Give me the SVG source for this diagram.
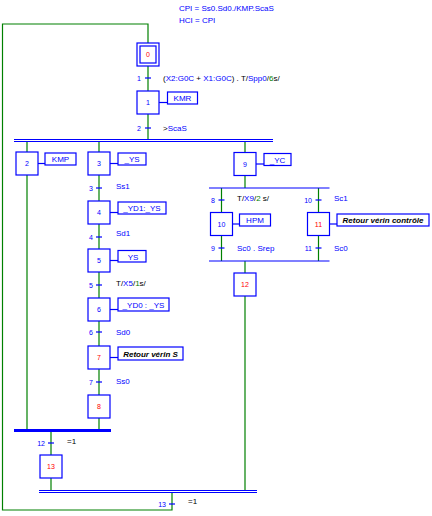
<svg xmlns="http://www.w3.org/2000/svg" width="432" height="516" viewBox="0 0 432 516">
<style>
text{font-family:"Liberation Sans",Arial,sans-serif;font-size:8px}
.b{fill:#0000ff}.k{fill:#000}.g{fill:#008000}.r{fill:#ff0000}
.step rect{fill:#fff;stroke:#0000ff;stroke-width:1.2}
.sl{font-size:7px;text-anchor:middle}
.act rect{fill:#fff;stroke:#0000ff;stroke-width:1.2}
.act line{stroke:#0000ff;stroke-width:1.2}
.act text{fill:#0000ff;text-anchor:middle}
.act text.it{fill:#000;font-style:italic;font-weight:bold}
.lnk{stroke:#008000;stroke-width:1.2;fill:none}
.bar{stroke:#0000ff;stroke-width:1.2}
.tk{stroke:#0000ff;stroke-width:1.2}
.tl{fill:#0000ff;text-anchor:end;font-size:7px}
</style>

<g id="header">
<text x="179" y="11" class="b">CPI = Ss0.Sd0./KMP.ScaS</text>
<text x="179" y="23" class="b">HCI = CPI</text>
</g>

<g id="connectors">
<path class="lnk" d="M148,43 V24 H2.5 V510 H172 V492.5"/>
<path class="lnk" d="M148,66 V91 M148,114 V139.5"/>
<path class="lnk" d="M27,141.5 V152 M27,175 V430"/>
<path class="lnk" d="M99,141.5 V152 M99,175 V201 M99,224 V249 M99,272 V298 M99,321 V346 M99,369 V395 M99,418 V430"/>
<path class="lnk" d="M245,141.5 V152.5 M245,175.5 V188"/>
<path class="lnk" d="M221.5,188 V212.5 M221.5,235.5 V261 M318.5,188 V212.5 M318.5,235.5 V261"/>
<path class="lnk" d="M245,261 V273 M245,296 V490.5"/>
<path class="lnk" d="M51,431 V455 M51,478 V490.5"/>
<line class="bar" x1="14" y1="139.5" x2="273" y2="139.5"/>
<line class="bar" x1="14" y1="141.5" x2="273" y2="141.5"/>
<line class="bar" x1="209" y1="188" x2="329.5" y2="188"/>
<line class="bar" x1="209" y1="261" x2="329.5" y2="261"/>
<line x1="14" y1="430.5" x2="111" y2="430.5" stroke="#0000ff" stroke-width="3"/>
<line class="bar" x1="39" y1="490.5" x2="257" y2="490.5"/>
<line class="bar" x1="39" y1="492.5" x2="257" y2="492.5"/>
</g>

<g id="transitions">
<line class="tk" x1="145" y1="78" x2="151" y2="78"/><text class="tl" x="141" y="81">1</text>
<text x="163" y="81"><tspan class="k">(</tspan><tspan class="b">X2:G0C</tspan><tspan class="k"> + </tspan><tspan class="b">X1:G0C</tspan><tspan class="k">) . T/</tspan><tspan class="b">Spp0</tspan><tspan class="k">/</tspan><tspan class="g">6</tspan><tspan class="k">s/</tspan></text>
<line class="tk" x1="145" y1="128" x2="151" y2="128"/><text class="tl" x="141" y="131">2</text>
<text x="163" y="131"><tspan class="k">&gt;</tspan><tspan class="b">ScaS</tspan></text>
<line class="tk" x1="96" y1="188" x2="102" y2="188"/><text class="tl" x="93" y="191">3</text>
<text x="116" y="189" class="b">Ss1</text>
<line class="tk" x1="96" y1="237" x2="102" y2="237"/><text class="tl" x="93" y="240">4</text>
<text x="116" y="236" class="b">Sd1</text>
<line class="tk" x1="96" y1="285" x2="102" y2="285"/><text class="tl" x="93" y="288">5</text>
<text x="116" y="286"><tspan class="k">T/</tspan><tspan class="b">X5</tspan><tspan class="k">/</tspan><tspan class="g">1</tspan><tspan class="k">s/</tspan></text>
<line class="tk" x1="96" y1="332" x2="102" y2="332"/><text class="tl" x="93" y="335">6</text>
<text x="116" y="335" class="b">Sd0</text>
<line class="tk" x1="96" y1="382" x2="102" y2="382"/><text class="tl" x="93" y="385">7</text>
<text x="116" y="384" class="b">Ss0</text>
<line class="tk" x1="218.5" y1="200" x2="224.5" y2="200"/><text class="tl" x="215" y="203">8</text>
<text x="237" y="201"><tspan class="k">T/</tspan><tspan class="b">X9</tspan><tspan class="k">/</tspan><tspan class="g">2</tspan><tspan class="k"> s/</tspan></text>
<line class="tk" x1="315.5" y1="200" x2="321.5" y2="200"/><text class="tl" x="312" y="203">10</text>
<text x="334" y="201" class="b">Sc1</text>
<line class="tk" x1="218.5" y1="248" x2="224.5" y2="248"/><text class="tl" x="215" y="251">9</text>
<text x="237" y="251" class="b">Sc0 . Srep</text>
<line class="tk" x1="315.5" y1="248" x2="321.5" y2="248"/><text class="tl" x="312" y="251">11</text>
<text x="334" y="251" class="b">Sc0</text>
<line class="tk" x1="48" y1="443" x2="54" y2="443"/><text class="tl" x="45" y="446">12</text>
<text x="67" y="444" class="k">=1</text>
<line class="tk" x1="169" y1="504" x2="175" y2="504"/><text class="tl" x="166" y="507">13</text>
<text x="188" y="504" class="k">=1</text>
</g>

<g id="step0" class="step"><rect x="137" y="43" width="22" height="23"/><rect x="140" y="46" width="16" height="17"/><text class="sl r" x="148" y="57">0</text></g>
<g id="step1" class="step"><rect x="137" y="91" width="22" height="23"/><text class="sl b" x="148" y="105">1</text></g>
<g id="step2" class="step"><rect x="16" y="152" width="22" height="23"/><text class="sl b" x="27" y="166">2</text></g>
<g id="step3" class="step"><rect x="88" y="152" width="22" height="23"/><text class="sl b" x="99" y="166">3</text></g>
<g id="step4" class="step"><rect x="88" y="201" width="22" height="23"/><text class="sl b" x="99" y="215">4</text></g>
<g id="step5" class="step"><rect x="88" y="249" width="22" height="23"/><text class="sl b" x="99" y="263">5</text></g>
<g id="step6" class="step"><rect x="88" y="298" width="22" height="23"/><text class="sl b" x="99" y="312">6</text></g>
<g id="step7" class="step"><rect x="88" y="346" width="22" height="23"/><text class="sl r" x="99" y="360">7</text></g>
<g id="step8" class="step"><rect x="88" y="395" width="22" height="23"/><text class="sl r" x="99" y="409">8</text></g>
<g id="step9" class="step"><rect x="234" y="152.5" width="22" height="23"/><text class="sl b" x="245" y="166.5">9</text></g>
<g id="step10" class="step"><rect x="210.5" y="212.5" width="22" height="23"/><text class="sl b" x="221.5" y="226.5">10</text></g>
<g id="step11" class="step"><rect x="307.5" y="212.5" width="22" height="23"/><text class="sl r" x="318.5" y="226.5">11</text></g>
<g id="step12" class="step"><rect x="234" y="273" width="22" height="23"/><text class="sl r" x="245" y="287">12</text></g>
<g id="step13" class="step"><rect x="40" y="455" width="22" height="23"/><text class="sl r" x="51" y="469">13</text></g>

<g id="action1" class="act"><line x1="159" y1="102.5" x2="167.5" y2="102.5"/><rect x="167.5" y="92" width="30" height="12"/><text x="182.5" y="101">KMR</text></g>
<g id="action2" class="act"><line x1="38" y1="163.5" x2="45" y2="163.5"/><rect x="45" y="153" width="31" height="12"/><text x="60.5" y="162">KMP</text></g>
<g id="action3" class="act"><line x1="110" y1="163.5" x2="118" y2="163.5"/><rect x="118" y="153" width="28" height="12"/><text x="132" y="162">_YS</text></g>
<g id="action4" class="act"><line x1="110" y1="212.5" x2="118" y2="212.5"/><rect x="118" y="202" width="48" height="12"/><text x="142" y="211">_YD1:_YS</text></g>
<g id="action5" class="act"><line x1="110" y1="260.5" x2="118" y2="260.5"/><rect x="118" y="250.5" width="28" height="11.5"/><text x="133" y="259.5">YS</text></g>
<g id="action6" class="act"><line x1="110" y1="309.5" x2="118" y2="309.5"/><rect x="118" y="298" width="51" height="13"/><text x="143.5" y="307.5">_YD0 : _YS</text></g>
<g id="action7" class="act"><line x1="110" y1="357.5" x2="118" y2="357.5"/><rect x="118" y="347" width="65" height="13"/><text class="it" x="150.5" y="356.5">Retour vérin S</text></g>
<g id="action9" class="act"><line x1="256" y1="164" x2="264" y2="164"/><rect x="264" y="153.5" width="27" height="12"/><text x="277.5" y="162.5">_YC</text></g>
<g id="action10" class="act"><line x1="232.5" y1="224" x2="239.5" y2="224"/><rect x="239.5" y="214" width="31" height="12"/><text x="255" y="223">HPM</text></g>
<g id="action11" class="act"><line x1="329.5" y1="224" x2="337" y2="224"/><rect x="337" y="214" width="92" height="12"/><text class="it" x="383" y="223">Retour vérin contrôle</text></g>
</svg>
